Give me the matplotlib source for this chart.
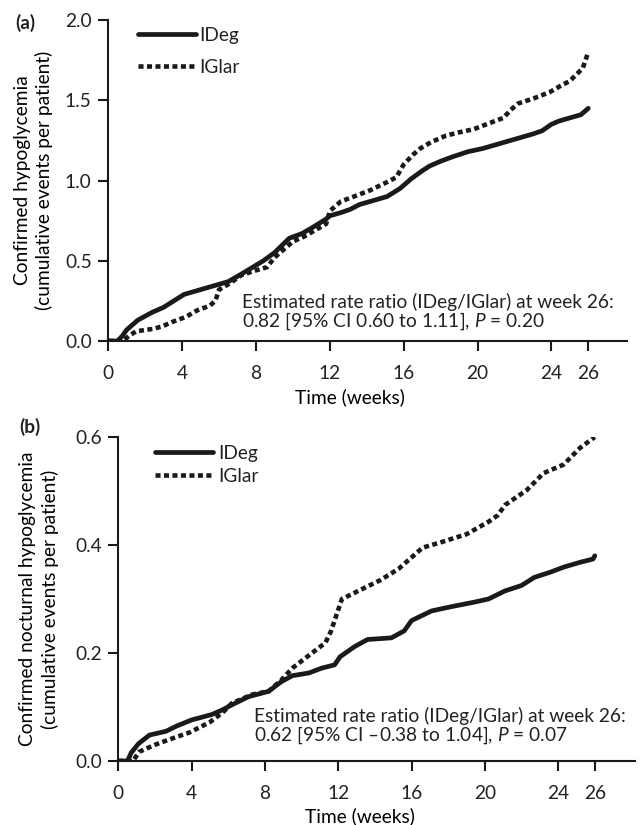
import matplotlib
matplotlib.use("Agg")
import matplotlib.pyplot as plt

plt.rcParams['font.family'] = ['Lato', 'DejaVu Sans']
plt.rcParams['mathtext.fontset'] = 'custom'
plt.rcParams['mathtext.rm'] = 'Lato'
plt.rcParams['mathtext.it'] = 'Lato:italic'
plt.rcParams['text.color'] = '#222222'

# (a) confirmed hypoglycemia, cumulative events per patient
weeks_a_ideg = [0, 0.5, 0.75, 1.0, 1.6, 2.4, 3.0, 4.1, 5.0, 5.9, 6.5, 7.4, 8.4, 9.0, 9.8,
                10.5, 11.1, 11.8, 12.0, 12.6, 13.1, 13.6, 14.2, 15.1, 15.8, 16.4, 17.0,
                17.4, 18.0, 18.7, 19.5, 20.3, 21.2, 22.1, 23.0, 23.5, 24.0, 24.4, 25.0,
                25.6, 26.0]
rate_a_ideg = [0, 0, 0.03, 0.07, 0.13, 0.18, 0.21, 0.29, 0.32, 0.35, 0.37, 0.43, 0.50,
               0.55, 0.64, 0.67, 0.71, 0.76, 0.78, 0.80, 0.82, 0.85, 0.87, 0.90, 0.95,
               1.01, 1.06, 1.09, 1.12, 1.15, 1.18, 1.20, 1.23, 1.26, 1.29, 1.31, 1.35,
               1.37, 1.39, 1.41, 1.45]
weeks_a_iglar = [0, 0.8, 1.1, 1.5, 2.4, 2.9, 3.5, 4.2, 4.8, 5.5, 5.8, 6.0, 6.6, 7.2, 8.0,
                 8.6, 9.0, 9.5, 10.0, 10.6, 11.2, 11.8, 12.0, 12.6, 13.3, 14.2, 15.1,
                 15.6, 16.0, 16.5, 16.9, 17.5, 18.3, 19.0, 19.8, 20.7, 21.4, 21.8, 22.2,
                 23.0, 23.9, 24.5, 25.0, 25.7, 26.0]
rate_a_iglar = [0, 0, 0.03, 0.06, 0.075, 0.09, 0.12, 0.15, 0.19, 0.22, 0.25, 0.32, 0.36,
                0.41, 0.44, 0.46, 0.52, 0.57, 0.62, 0.65, 0.69, 0.73, 0.81, 0.87, 0.90,
                0.94, 0.99, 1.02, 1.10, 1.16, 1.20, 1.24, 1.28, 1.30, 1.32, 1.36, 1.39,
                1.44, 1.48, 1.51, 1.55, 1.59, 1.62, 1.70, 1.80]

# (b) confirmed nocturnal hypoglycemia
weeks_b_ideg = [0, 0.5, 0.7, 1.1, 1.7, 2.6, 3.2, 4.0, 5.1, 5.7, 6.2, 7.1, 8.2, 8.9, 9.5,
                10.4, 11.1, 11.8, 12.1, 12.9, 13.6, 14.9, 15.6, 16.0, 17.1, 18.2, 19.4,
                20.2, 21.1, 22.0, 22.7, 23.6, 24.3, 25.2, 25.9, 26.0]
rate_b_ideg = [0, 0, 0.015, 0.032, 0.048, 0.055, 0.065, 0.076, 0.086, 0.095, 0.104,
               0.119, 0.129, 0.147, 0.158, 0.163, 0.172, 0.178, 0.193, 0.212, 0.225,
               0.228, 0.241, 0.260, 0.278, 0.286, 0.294, 0.300, 0.315, 0.325, 0.340,
               0.350, 0.359, 0.368, 0.374, 0.380]
weeks_b_iglar = [0, 0.8, 1.14, 2.0, 2.8, 3.9, 5.0, 5.7, 6.2, 7.3, 8.2, 8.9, 9.5, 10.3,
                 11.3, 11.6, 11.9, 12.2, 13.1, 14.3, 15.3, 16.1, 16.6, 17.6, 19.0, 20.2,
                 20.7, 21.1, 22.3, 23.2, 24.3, 25.2, 26.0]
rate_b_iglar = [0, 0, 0.017, 0.03, 0.04, 0.053, 0.072, 0.09, 0.107, 0.123, 0.129, 0.15,
                0.172, 0.193, 0.219, 0.24, 0.27, 0.30, 0.315, 0.335, 0.356, 0.38, 0.395,
                0.405, 0.42, 0.443, 0.455, 0.474, 0.502, 0.533, 0.549, 0.58, 0.60]

xticks = [0, 4, 8, 12, 16, 20, 24, 26]
yticks_a = [0.0, 0.5, 1.0, 1.5, 2.0]
yticks_b = [0.0, 0.2, 0.4, 0.6]

FS = 13.8
ink = '#1a1a1a'

fig = plt.figure(figsize=(6.42, 8.25), dpi=100)
ax_a = fig.add_axes([0.1687, 0.5867, 0.808, 0.389])
ax_b = fig.add_axes([0.1843, 0.0776, 0.805, 0.3927])


def style(ax, yticks, ylabel, xmax):
    ax.set_xlim(0, xmax)
    ax.set_ylim(yticks[0], yticks[-1])
    ax.set_xticks(xticks)
    ax.set_yticks(yticks)
    ax.set_yticklabels(['%.1f' % v for v in yticks])
    for s in ['top', 'right']:
        ax.spines[s].set_visible(False)
    for s in ['left', 'bottom']:
        ax.spines[s].set_linewidth(1.5)
        ax.spines[s].set_color(ink)
    ax.tick_params(axis='both', length=7, width=1.5, color=ink, labelsize=FS,
                   labelcolor='#222222')
    ax.tick_params(axis='x', pad=10)
    ax.tick_params(axis='y', pad=5)
    ax.set_ylabel(ylabel, fontsize=FS, linespacing=1.3, va='center')
    ax.set_xlabel('Time (weeks)', fontsize=FS)


def curves(ax, wi, ri, wg, rg):
    l1, = ax.plot(wi, ri, color=ink, lw=3.4, solid_capstyle='round', label='IDeg')
    l2, = ax.plot(wg, rg, color=ink, lw=3.3, linestyle=(0, (1.1, 0.75)), label='IGlar')
    return [l1, l2]


h = curves(ax_a, weeks_a_ideg, rate_a_ideg, weeks_a_iglar, rate_a_iglar)
style(ax_a, yticks_a, 'Confirmed hypoglycemia\n(cumulative events per patient)', 28.1)
ax_a.legend(handles=h, loc='upper left', bbox_to_anchor=(0.057, 0.978), frameon=False,
            fontsize=FS, borderpad=0, borderaxespad=0, handlelength=3.05,
            handletextpad=0.16, labelspacing=0.78)
ax_a.text(7.25, 0.245, 'Estimated rate ratio (IDeg/IGlar) at week 26:', fontsize=FS,
          va='center')
ax_a.text(7.25, 0.126, '0.82 [95% CI 0.60 to 1.11], $P$ = 0.20', fontsize=FS, va='center')
ax_a.yaxis.set_label_coords(-0.144, 0.5)
ax_a.xaxis.set_label_coords(0.466, -0.146)

h = curves(ax_b, weeks_b_ideg, rate_b_ideg, weeks_b_iglar, rate_b_iglar)
style(ax_b, yticks_b, 'Confirmed nocturnal hypoglycemia\n(cumulative events per patient)', 28.2)
ax_b.legend(handles=h, loc='upper left', bbox_to_anchor=(0.071, 0.975), frameon=False,
            fontsize=FS, borderpad=0, borderaxespad=0, handlelength=3.05,
            handletextpad=0.25, labelspacing=0.3)
ax_b.text(7.4, 0.084, 'Estimated rate ratio (IDeg/IGlar) at week 26:', fontsize=FS,
          va='center')
ax_b.text(7.4, 0.048, '0.62 [95% CI \u20130.38 to 1.04], $P$ = 0.07', fontsize=FS, va='center')
ax_b.yaxis.set_label_coords(-0.154, 0.5)
ax_b.xaxis.set_label_coords(0.468, -0.142)

fig.text(0.039, 0.972, '(a)', fontsize=FS, fontweight='bold', ha='center', va='center')
fig.text(0.047, 0.482, '(b)', fontsize=FS, fontweight='bold', ha='center', va='center')

fig.savefig('out.png', dpi=100)
